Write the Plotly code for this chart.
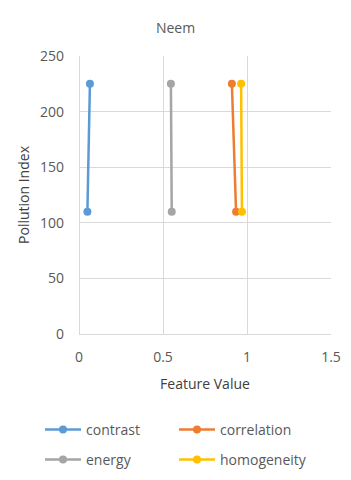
import plotly.graph_objects as go

series_names = ["contrast", "correlation", "energy", "homogeneity"]
feature_values = {
    "contrast": [0.05, 0.065],
    "correlation": [0.935, 0.91],
    "energy": [0.552, 0.547],
    "homogeneity": [0.97, 0.965],
}
pollution_index = [110, 225]
colors = {
    "contrast": "#5B9BD5",
    "correlation": "#ED7D31",
    "energy": "#A5A5A5",
    "homogeneity": "#FFC000",
}
legend_ids = ["legend", "legend2", "legend3", "legend4"]
# legend entry pixel anchors (left x, center y)
legend_pos = [(40, 430), (174, 430), (40, 460), (174, 460)]

font_family = "Open Sans, Liberation Sans, sans-serif"
txt = "#595959"
W, H = 351, 480

fig = go.Figure()
for name, lid in zip(series_names, legend_ids):
    fig.add_trace(go.Scatter(
        x=feature_values[name], y=pollution_index, name=name,
        mode="lines+markers",
        line=dict(color=colors[name], width=2.5),
        marker=dict(color=colors[name], size=8),
        legend=lid, showlegend=True,
    ))

L, R, T, B = 79, 20, 56, 146
grid = "#D9D9D9"
legends = {}
for lid, (px, py) in zip(legend_ids, legend_pos):
    legends[lid] = dict(
        orientation="h", xref="container", yref="container",
        x=px / W, xanchor="left",
        y=1 - py / H, yanchor="middle",
        font=dict(size=14, color=txt), bgcolor="rgba(0,0,0,0)", itemwidth=36,
    )

fig.update_layout(
    width=W, height=H,
    margin=dict(l=L, r=R, t=T, b=B, autoexpand=False),
    showlegend=True,
    paper_bgcolor="white", plot_bgcolor="white",
    font=dict(family=font_family, color=txt, size=14),
    title=dict(text="Neem", x=0.5, xanchor="center", y=1 - 28 / H, yanchor="middle",
               font=dict(size=14, color=txt)),
    xaxis=dict(range=[0, 1.5], dtick=0.5, showgrid=True, gridcolor=grid, gridwidth=1,
               zeroline=True, zerolinecolor=grid, zerolinewidth=1, showline=False,
               tickfont=dict(size=14, color=txt), ticks="", ticklabelstandoff=13,
               automargin=False,
               title=dict(text="Feature Value", font=dict(size=14, color="#404040"), standoff=14)),
    yaxis=dict(range=[0, 250], dtick=50, showgrid=True, gridcolor=grid, gridwidth=1,
               zeroline=True, zerolinecolor=grid, zerolinewidth=1, showline=False,
               tickfont=dict(size=14, color=txt), ticks="", ticklabelstandoff=14,
               automargin=False,
               title=dict(text="Pollution Index", font=dict(size=14, color="#404040"), standoff=7)),
    **legends,
)

fig.write_html(
    "out.html",
    config={"displayModeBar": False},
    post_script="document.body.style.margin='0';document.body.style.overflow='hidden';",
)
